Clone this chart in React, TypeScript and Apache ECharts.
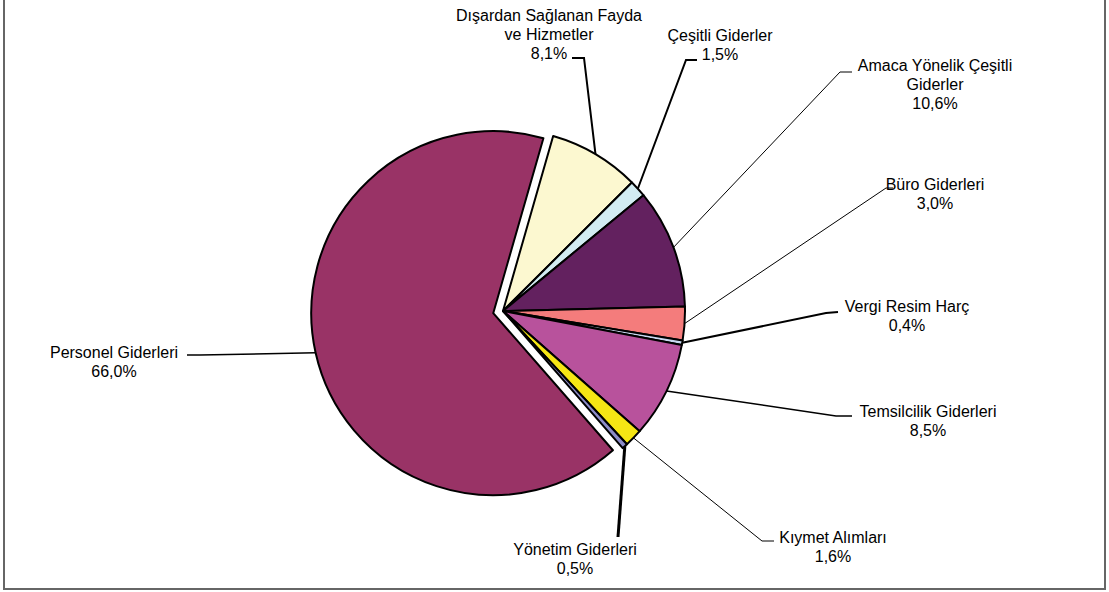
import React, { useEffect, useRef } from 'react';
import * as echarts from 'echarts';

// ---- Data ----
const categories: string[] = [
  'Dışardan Sağlanan Fayda\nve Hizmetler',
  'Çeşitli Giderler',
  'Amaca Yönelik Çeşitli\nGiderler',
  'Büro Giderleri',
  'Vergi Resim Harç',
  'Temsilcilik Giderleri',
  'Kıymet Alımları',
  'Yönetim Giderleri',
  'Personel Giderleri',
];
const shares: number[] = [8.1, 1.5, 10.6, 3.0, 0.4, 8.5, 1.6, 0.5, 66.0];
const explodedIndex = 8;

// ---- Styles / layout ----
const colors: string[] = [
  '#FCF8D0', '#D2ECF2', '#63215F', '#F47C7C', '#C8D8F0',
  '#B8529C', '#F5E614', '#8C8CC8', '#993366',
];
const labelCenters: number[][] = [
  [549, 34], [720, 44.5], [935, 84.5], [935, 194], [907, 316],
  [928, 421], [833, 547], [575, 558.5], [114, 362],
];
const leaderBends: number[][][] = [
  [[584, 58], [572, 58]],
  [[686, 60], [697, 60]],
  [[840, 72], [852, 72]],
  [[886, 188], [893, 188]],
  [[826, 313], [838, 312]],
  [[836, 416], [852, 416]],
  [[762, 541], [774, 541]],
  [[618, 537], [618, 537]],
  [[200, 355], [187, 355]],
];
const leaderWidths: number[] = [2, 2, 1, 1, 2, 1.5, 1, 3, 1.5];

const CENTER = [503, 311];
const RADIUS = 182;
const START_ANGLE = 74;
const EXPLODE = 10;

export default function App() {
  const ref = useRef<HTMLDivElement>(null);
  useEffect(() => {
    document.body.style.margin = '0';
    if (!ref.current) return;
    const chart = echarts.init(ref.current, undefined, { renderer: 'svg' });

    // direction of the exploded slice (its mid angle)
    const total = shares.reduce((a, b) => a + b, 0);
    let before = 0;
    for (let i = 0; i < explodedIndex; i++) before += shares[i];
    const mid = START_ANGLE - (360 * (before + shares[explodedIndex] / 2)) / total;
    const rad = (mid * Math.PI) / 180;
    const explodedCenter = [
      CENTER[0] + Math.cos(rad) * EXPLODE,
      CENTER[1] - Math.sin(rad) * EXPLODE,
    ];

    const makeData = (visible: (i: number) => boolean) =>
      categories.map((name, i) => {
        const v = visible(i);
        return {
          name,
          value: shares[i],
          itemStyle: v
            ? { color: colors[i] }
            : { color: 'rgba(0,0,0,0)', borderWidth: 0, opacity: 0 },
          label: { show: v },
          labelLine: { show: v, lineStyle: { width: leaderWidths[i] } },
        };
      });

    const baseSeries = {
      type: 'pie',
      radius: RADIUS,
      startAngle: START_ANGLE,
      clockwise: true,
      avoidLabelOverlap: false,
      silent: true,
      emphasis: { disabled: true },
      itemStyle: { borderColor: '#000', borderWidth: 2 },
      label: {
        position: 'outside',
        color: '#000',
        fontFamily: 'Liberation Sans, Arial, sans-serif',
        fontSize: 16,
        lineHeight: 19,
        align: 'center',
        formatter: (p: any) =>
          p.name + '\n' + shares[p.dataIndex].toFixed(1).replace('.', ',') + '%',
      },
      labelLine: {
        length: 10,
        length2: 10,
        lineStyle: { color: '#000', width: 1.5 },
      },
      labelLayout: (params: any) => {
        const i = params.dataIndex;
        const c = labelCenters[i];
        const res: any = { x: c[0], y: c[1], align: 'center', verticalAlign: 'middle' };
        const pts = params.labelLinePoints;
        if (pts && pts[0]) {
          res.labelLinePoints = [pts[0], leaderBends[i][0], leaderBends[i][1]];
        }
        return res;
      },
    };

    chart.setOption({
      animation: false,
      backgroundColor: '#fff',
      graphic: [
        {
          type: 'rect',
          shape: { x: 4, y: -5, width: 1101, height: 594 },
          style: { fill: 'none', stroke: '#666', lineWidth: 2 },
          silent: true,
        },
      ],
      series: [
        {
          ...baseSeries,
          center: CENTER,
          data: makeData((i) => i !== explodedIndex),
        },
        {
          ...baseSeries,
          center: explodedCenter,
          data: makeData((i) => i === explodedIndex),
        },
      ],
    });
    return () => chart.dispose();
  }, []);
  return <div ref={ref} style={{ width: 1109, height: 592 }} />;
}
